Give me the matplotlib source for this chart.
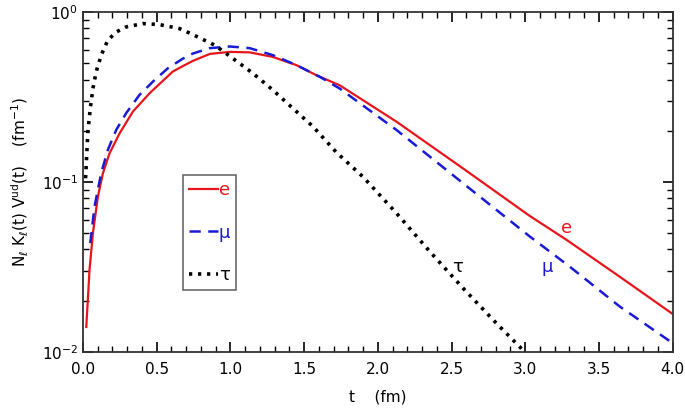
import matplotlib
matplotlib.use("Agg")
from matplotlib import pyplot as plt
from matplotlib.ticker import MultipleLocator, LogLocator

# values
t_e = [0.023, 0.034, 0.045, 0.068, 0.102, 0.136, 0.181, 0.249, 0.339, 0.452, 0.610,
       0.678, 0.746, 0.861, 0.997, 1.132, 1.29, 1.449, 1.584, 1.742, 2.127, 2.578,
       3.031, 3.28, 3.64, 4.0]
y_e = [0.0140, 0.0205, 0.0304, 0.0499, 0.082, 0.1125, 0.1475, 0.193, 0.259, 0.332, 0.446,
       0.480, 0.515, 0.566, 0.582, 0.578, 0.543, 0.486, 0.424, 0.370, 0.226, 0.120,
       0.0630, 0.0456, 0.0277, 0.0167]

t_mu = [0.050, 0.079, 0.124, 0.169, 0.226, 0.294, 0.384, 0.475, 0.576, 0.678, 0.746,
        0.861, 0.997, 1.132, 1.29, 1.449, 1.607, 1.742, 2.127, 2.578, 3.031, 3.30,
        3.64, 4.0]
y_mu = [0.0436, 0.0716, 0.1125, 0.154, 0.202, 0.254, 0.325, 0.389, 0.466, 0.531, 0.569,
        0.612, 0.626, 0.612, 0.556, 0.486, 0.415, 0.354, 0.202, 0.0982, 0.0477, 0.0318,
        0.0185, 0.01125]

t_tau = [0.018, 0.027, 0.034, 0.050, 0.068, 0.090, 0.124, 0.169, 0.226, 0.294, 0.407,
         0.520, 0.655, 0.725, 0.895, 1.019, 1.155, 1.29, 1.426, 1.562, 1.72, 1.90,
         2.127, 2.353, 2.578, 2.805, 2.963, 3.0]
y_tau = [0.105, 0.150, 0.197, 0.270, 0.354, 0.444, 0.556, 0.681, 0.762, 0.816, 0.854,
         0.842, 0.798, 0.750, 0.637, 0.531, 0.434, 0.346, 0.270, 0.211, 0.149, 0.107,
         0.0654, 0.0389, 0.0237, 0.0147, 0.0107, 0.0098]

fig = plt.figure(figsize=(6.85, 4.11), dpi=100)
ax = fig.add_axes([0.121, 0.144, 0.861, 0.827])

l1, = ax.plot(t_e, y_e, '-', color='#e8141c', lw=1.6, label='e')
l2, = ax.plot(t_mu, y_mu, '--', color='#1a1ad6', lw=1.8, dashes=(4.5, 3), label='μ')
l3, = ax.plot(t_tau, y_tau, ':', color='black', lw=2.6, dashes=(0.9, 1.6), label='τ')

ax.set_yscale('log')
ax.set_xlim(0, 4.0)
ax.set_ylim(0.01, 1.0)
ax.xaxis.set_major_locator(MultipleLocator(0.5))
ax.xaxis.set_minor_locator(MultipleLocator(0.1))
ax.yaxis.set_minor_locator(LogLocator(base=10, subs=range(2, 10)))
ax.tick_params(which='both', direction='in', top=True, right=True, labelsize=11)
ax.tick_params(axis='x', pad=7)
ax.tick_params(which='major', length=7, width=1.2)
ax.tick_params(which='minor', length=4, width=1)
for s in ax.spines.values():
    s.set_linewidth(1.3)
    s.set_color('#333333')

ax.set_xlabel('t    (fm)', fontsize=11, labelpad=9)
ax.set_ylabel(r'N$_\ell$ K$_\ell$(t) V$^{\rm ud}$(t)    (fm$^{-1}$)', fontsize=11, labelpad=8)

# legend box
leg = ax.legend(loc='upper left', bbox_to_anchor=(0.169, 0.52), frameon=True,
                fancybox=False, handlelength=1.6, handletextpad=0.05,
                labelspacing=1.35, borderpad=0.35, fontsize=13, borderaxespad=0)
leg.get_frame().set_edgecolor('#444444')
leg.get_frame().set_linewidth(1.2)
for txt, ln in zip(leg.get_texts(), [l1, l2, l3]):
    txt.set_color(ln.get_color())

# curve labels
ax.text(3.28, 0.0536, 'e', color='#e8141c', fontsize=13, ha='center', va='center')
ax.text(3.15, 0.0316, 'μ', color='#1a1ad6', fontsize=13, ha='center', va='center')
ax.text(2.54, 0.0316, 'τ', color='black', fontsize=13, ha='center', va='center')

fig.savefig('out.png', dpi=100)
